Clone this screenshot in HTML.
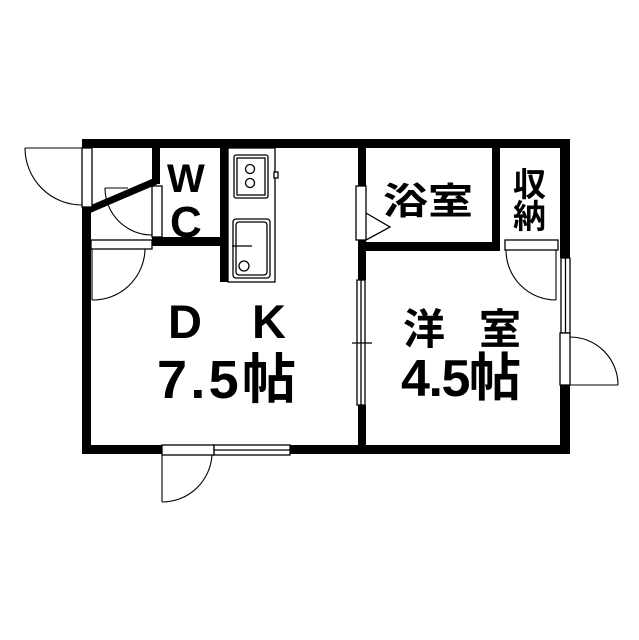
<!DOCTYPE html>
<html><head><meta charset="utf-8"><style>html,body{margin:0;padding:0;background:#fff}svg{display:block}</style></head>
<body>
<svg width="639" height="640" viewBox="0 0 639 640" xmlns="http://www.w3.org/2000/svg">
<g fill="#000">
<rect x="82" y="139" width="488" height="9"/>
<rect x="82" y="207" width="9" height="247"/>
<rect x="82" y="445" width="80" height="9"/>
<rect x="290" y="445" width="280" height="9"/>
<rect x="560" y="139" width="10" height="119"/>
<rect x="560" y="385" width="10" height="69"/>
<rect x="152" y="139" width="8" height="45"/>
<rect x="152" y="237" width="76" height="9"/>
<rect x="220" y="139" width="8" height="143"/>
<rect x="358" y="139" width="8" height="48"/>
<rect x="358" y="240" width="8" height="40"/>
<rect x="358" y="405" width="8" height="45"/>
<rect x="358" y="242" width="142" height="9"/>
<rect x="492" y="139" width="8" height="112"/>
</g>
<line x1="86" y1="211" x2="156" y2="181" stroke="#000" stroke-width="7"/>
<g fill="#fff" stroke="#000" stroke-width="1.3">
<rect x="82" y="148" width="10" height="59"/>
<rect x="152" y="186" width="10" height="51"/>
<rect x="91" y="240" width="61" height="9"/>
<rect x="228" y="148" width="47" height="134"/>
<rect x="234" y="155" width="34" height="43" rx="2"/>
<rect x="237" y="158" width="28" height="37"/>
<circle cx="250" cy="169" r="4.5"/>
<circle cx="250" cy="183" r="4.5"/>
<rect x="274" y="172" width="4" height="6"/>
<rect x="233" y="219" width="37" height="59" rx="3"/>
<rect x="236" y="222" width="31" height="53" rx="3"/>
<circle cx="244" cy="266" r="5"/>
<line x1="232" y1="246" x2="252" y2="246"/>
<rect x="356" y="186" width="10" height="54"/>
<polyline points="366,213 390,227 366,240" fill="none"/>
<rect x="357" y="280" width="8" height="125"/>
<line x1="361" y1="280" x2="361" y2="405"/>
<line x1="352" y1="343" x2="372" y2="343"/>
<rect x="505" y="240" width="53" height="10"/>
<rect x="561" y="258" width="9" height="75"/>
<line x1="565.5" y1="258" x2="565.5" y2="333"/>
<rect x="560" y="333" width="10" height="52"/>
<rect x="162" y="445" width="52" height="10"/>
<rect x="214" y="445" width="76" height="10"/>
<line x1="214" y1="450" x2="290" y2="450"/>
</g>
<g fill="none" stroke="#000" stroke-width="1.1">
<line x1="25" y1="148" x2="82" y2="148"/>
<path d="M25 148 A57 57 0 0 0 82 205"/>
<line x1="105" y1="188" x2="128" y2="188"/>
<path d="M105 188 A47 47 0 0 0 152 235"/>
<line x1="92" y1="249" x2="92" y2="300"/>
<path d="M92 300 A52 52 0 0 0 145 249"/>
<line x1="556" y1="250" x2="556" y2="300"/>
<path d="M506 250 A50 50 0 0 0 556 300"/>
<line x1="570" y1="385" x2="618" y2="385"/>
<path d="M570 337 A48 48 0 0 1 618 385"/>
<line x1="162" y1="455" x2="162" y2="502"/>
<path d="M162 502 A50 50 0 0 0 212 455"/>
</g>
<g font-family="'Liberation Sans','Noto Sans CJK JP',sans-serif" fill="#000" font-weight="bold">
<text x="167" y="192" font-size="40">W</text>
<text x="170" y="237" font-size="44">C</text>
<text x="383" y="214" font-size="37" textLength="90" lengthAdjust="spacingAndGlyphs">浴室</text>
<text x="513" y="196" font-size="33">収</text>
<text x="513" y="228" font-size="33">納</text>
<text x="168" y="338" font-size="47">D</text>
<text x="252" y="338" font-size="47">K</text>
<text x="157" y="398" font-size="54" textLength="139" lengthAdjust="spacing">7.5帖</text>
<text x="403" y="344" font-size="42">洋</text>
<text x="479" y="344" font-size="42">室</text>
<text x="401" y="396" font-size="52" textLength="120" lengthAdjust="spacing">4.5帖</text>
</g>
</svg>
</body></html>
